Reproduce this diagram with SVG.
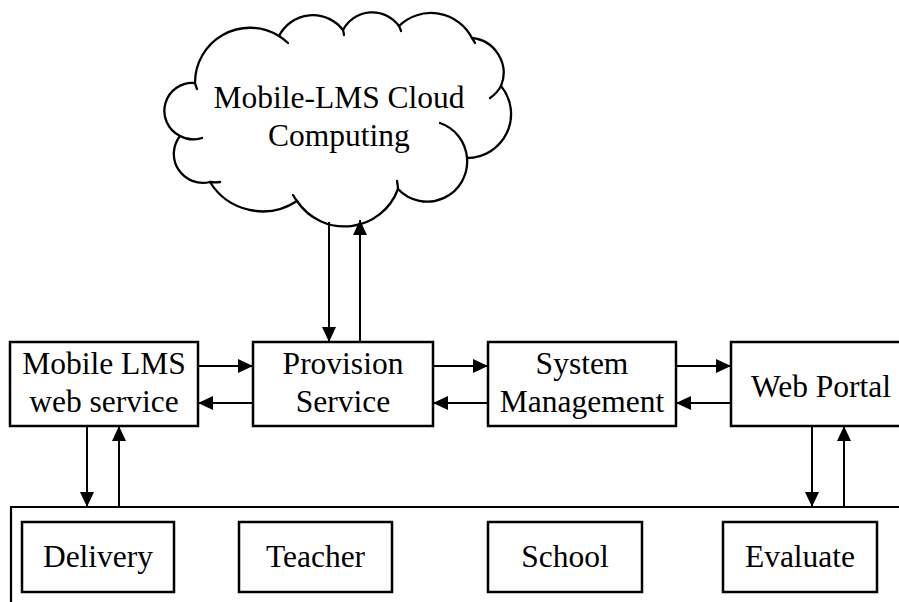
<svg xmlns="http://www.w3.org/2000/svg" width="899" height="602" viewBox="0 0 899 602">
  <style>
    .box { fill: #fff; stroke: #000; stroke-width: 2.5; }
    .frame { fill: none; stroke: #000; stroke-width: 2.2; }
    .cloud { fill: #fff; stroke: #000; stroke-width: 2.3; stroke-linejoin: round; }
    .tail { fill: none; stroke: #000; stroke-width: 2.3; stroke-linecap: round; }
    .link { fill: none; stroke: #000; stroke-width: 2; marker-end: url(#head); }
    text { font-family: "Liberation Serif", "Times New Roman", serif; font-size: 31.5px; fill: #000; text-anchor: middle; }
  </style>
  <defs>
    <marker id="head" markerUnits="userSpaceOnUse" markerWidth="15" markerHeight="14" refX="15" refY="7" orient="auto">
      <path d="M0,0 L15,7 L0,14 Z" fill="#000"/>
    </marker>
  </defs>
  <rect width="899" height="602" fill="#fff"/>

  <!-- cloud -->
  <g id="cloud">
    <path class="cloud" d="M 195 83
      A 55 55 0 0 1 279 36
      A 38 38 0 0 1 343 30
      A 33 33 0 0 1 399 26
      A 46 46 0 0 1 472 38
      A 35 35 0 0 1 501 86
      A 44 44 0 0 1 467 158
      A 40 40 0 0 1 398 189
      A 57 57 0 0 1 297 201
      A 62 62 0 0 1 210 182
      A 29 29 0 0 1 180 136
      A 28 28 0 0 1 195 83 Z"/>
    <!-- inner curls where the lobes overlap -->
    <path class="tail" d="M 197 89 A 55 55 0 0 1 195 83"/>
    <path class="tail" d="M 279 36 A 55 55 0 0 1 288 43"/>
    <path class="tail" d="M 343 30 A 38 38 0 0 1 344 35"/>
    <path class="tail" d="M 399 26 A 33 33 0 0 1 401 31"/>
    <path class="tail" d="M 472 38 A 46 46 0 0 1 475 43"/>
    <path class="tail" d="M 501 86 A 35 35 0 0 1 490 98"/>
    <path class="tail" d="M 440 123 A 40 40 0 0 1 467 158"/>
    <path class="tail" d="M 397 181 A 57 57 0 0 1 398 189"/>
    <path class="tail" d="M 297 201 A 57 57 0 0 1 293 195"/>
    <path class="tail" d="M 220 182 A 29 29 0 0 1 210 182"/>
    <path class="tail" d="M 202 138 A 28 28 0 0 1 180 136"/>
    <text x="339" y="108">Mobile-LMS Cloud</text>
    <text x="339" y="146">Computing</text>
  </g>

  <g id="mobile-lms">
    <rect class="box" x="10" y="342" width="188" height="84"/>
    <text x="104" y="374">Mobile LMS</text>
    <text x="104" y="412">web service</text>
  </g>

  <g id="provision">
    <rect class="box" x="253" y="342" width="180" height="84"/>
    <text x="343" y="374">Provision</text>
    <text x="343" y="412">Service</text>
  </g>

  <g id="system-management">
    <rect class="box" x="488" y="342" width="188" height="84"/>
    <text x="582" y="374">System</text>
    <text x="582" y="412">Management</text>
  </g>

  <g id="web-portal">
    <path class="box" d="M 902 342 H 731 V 426 H 902"/>
    <text x="821" y="397">Web Portal</text>
  </g>

  <g id="clients">
    <path class="frame" d="M 11 604 V 507 H 902"/>
    <g id="delivery">
      <rect class="box" x="22" y="522" width="152" height="70"/>
      <text x="98" y="567">Delivery</text>
    </g>
    <g id="teacher">
      <rect class="box" x="239" y="522" width="153" height="70"/>
      <text x="315.5" y="567">Teacher</text>
    </g>
    <g id="school">
      <rect class="box" x="488" y="522" width="154" height="70"/>
      <text x="565" y="567">School</text>
    </g>
    <g id="evaluate">
      <rect class="box" x="723" y="522" width="154" height="70"/>
      <text x="800" y="567">Evaluate</text>
    </g>
  </g>

  <g id="connectors">
    <line class="link" x1="329" y1="222" x2="329" y2="342"/>
    <line class="link" x1="360" y1="342" x2="360" y2="220"/>

    <line class="link" x1="198" y1="366" x2="253" y2="366"/>
    <line class="link" x1="253" y1="403" x2="198" y2="403"/>
    <line class="link" x1="433" y1="366" x2="488" y2="366"/>
    <line class="link" x1="488" y1="403" x2="433" y2="403"/>
    <line class="link" x1="676" y1="366" x2="731" y2="366"/>
    <line class="link" x1="731" y1="403" x2="676" y2="403"/>

    <line class="link" x1="87" y1="426" x2="87" y2="507"/>
    <line class="link" x1="119" y1="507" x2="119" y2="426"/>
    <line class="link" x1="812" y1="426" x2="812" y2="507"/>
    <line class="link" x1="844" y1="507" x2="844" y2="426"/>
  </g>
</svg>
